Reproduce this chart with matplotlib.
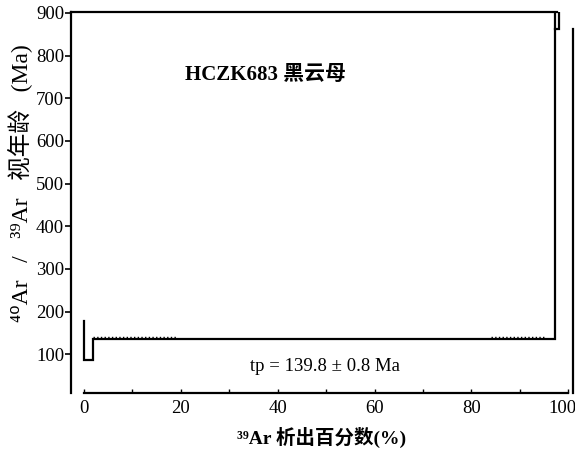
import numpy as np
import matplotlib
matplotlib.use("Agg")
import matplotlib.pyplot as plt
from matplotlib.transforms import ScaledTranslation

plt.rcParams['font.family'] = ['Liberation Serif', 'Noto Sans CJK SC', 'DejaVu Sans']

# =====================================================
# 数据：坪年龄谱（累计 39Ar 析出百分数 vs 视年龄）
# =====================================================

# 阶梯折线顶点
spec_x = [0.0, 0.0, 1.8, 1.8, 97.3, 97.3, 98.2, 98.2, 97.3]
spec_y = [178, 86, 86, 135, 135, 905, 905, 862, 862]

# 坪区误差上沿（点线段）
err_seg1_x = [1.8, 19.0]
err_seg2_x = [84.0, 95.0]
err_y = 141

x_ticks = [0, 20, 40, 60, 80, 100]
y_ticks = [100, 200, 300, 400, 500, 600, 700, 800, 900]

sample_label = "HCZK683 黑云母"
plateau_label = "tp = 139.8 ± 0.8 Ma"

# =====================================================
# 绘图
# =====================================================

fig = plt.figure(figsize=(5.75, 4.5), dpi=100)
ax = fig.add_axes([0.1235, 0.1267, 0.873, 0.8466])

xmin, xmax = -2.7, 101.0
ymin, ymax = 9, 902
ax.set_xlim(xmin, xmax)
ax.set_ylim(ymin, ymax)

ax.plot(spec_x, spec_y, color='black', linewidth=1.6, solid_joinstyle='miter')
ax.plot(err_seg1_x, [err_y, err_y], color='black', linewidth=1.0, linestyle=':')
ax.plot(err_seg2_x, [err_y, err_y], color='black', linewidth=1.0, linestyle=':')

# 坐标框
for s in ['left', 'right', 'top', 'bottom']:
    ax.spines[s].set_linewidth(1.6)
ax.spines['bottom'].set_bounds(0, 100)
ax.spines['top'].set_bounds(xmin, 97.8)
ax.spines['right'].set_bounds(ymin, 862)

ax.set_yticks(y_ticks)
ax.set_xticks(x_ticks)
ax.set_xticks(np.arange(10, 100, 20), minor=True)
ax.tick_params(axis='y', direction='out', length=4, width=1.2,
               labelsize=13.5, pad=1, right=False)
ax.tick_params(axis='x', which='major', direction='in', length=3, width=1.0,
               labelsize=13.5, pad=5, top=False)
ax.tick_params(axis='x', which='minor', direction='in', length=3, width=1.0, top=False)

# 最右侧 "100" 向左收
fig.canvas.draw()
last = ax.get_xticklabels()[-1]
last.set_horizontalalignment('right')
last.set_transform(last.get_transform() + ScaledTranslation(8 / 100, 0, fig.dpi_scale_trans))

ax.set_ylabel("⁴⁰Ar   /   ³⁹Ar   视年龄   (Ma)", fontsize=17)
ax.yaxis.set_label_coords(-0.076, 0.551)
ax.set_xlabel("³⁹Ar 析出百分数(%)", fontsize=14, fontweight='bold', labelpad=7)

ax.text(20.9, 754, sample_label, fontsize=15, fontweight='bold', va='center')
ax.text(34.3, 72, plateau_label, fontsize=13.5, va='center')

plt.savefig("out.png", dpi=100)
